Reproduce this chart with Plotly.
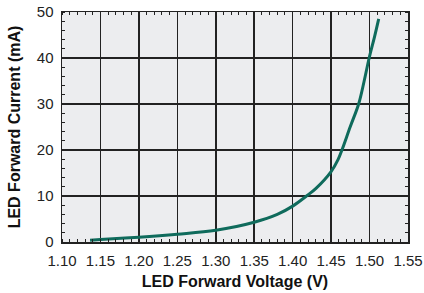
import plotly.graph_objects as go

voltage = [1.1365, 1.15, 1.20, 1.25, 1.30, 1.35, 1.38, 1.40, 1.418, 1.43, 1.45,
           1.459, 1.4641, 1.475, 1.4858, 1.4930, 1.4995, 1.5066, 1.5119]
current = [0.4, 0.55, 1.05, 1.7, 2.55, 4.3, 6.0, 7.8, 10, 11.6, 15.3,
           17.9, 20, 25.1, 30, 35, 40, 44.7, 48.5]
x_ticks = [1.10, 1.15, 1.20, 1.25, 1.30, 1.35, 1.40, 1.45, 1.50, 1.55]
y_ticks = [0, 10, 20, 30, 40, 50]

fig = go.Figure()
fig.add_trace(go.Scatter(x=voltage, y=current, mode="lines",
                         line=dict(color="#0f6b5c", width=3, shape="spline", smoothing=1.0),
                         hoverinfo="skip"))

font_family = "Liberation Sans, Arial, sans-serif"
axis_common = dict(
    showline=True, linecolor="#222", linewidth=1.5, mirror="allticks",
    showgrid=True, gridcolor="#222", gridwidth=1.5,
    ticks="", zeroline=False, automargin=False, ticklabeloverflow="allow",
    tickfont=dict(family=font_family, size=15, color="#222"),
)
fig.update_xaxes(range=[1.10, 1.55], tickvals=x_ticks, tickformat=".2f", ticklabelstandoff=4,
                 title=dict(text="<b>LED Forward Voltage (V)</b>", font=dict(family=font_family, size=16, color="#111"), standoff=8),
                 minor=dict(dtick=0.01, tick0=1.10, ticks="inside", ticklen=3, tickcolor="#222", showgrid=False),
                 **axis_common)
fig.update_yaxes(range=[0, 50], tickvals=y_ticks, ticklabelstandoff=4,
                 title=dict(text="<b>LED Forward Current (mA)</b>", font=dict(family=font_family, size=16, color="#111"), standoff=12),
                 minor=dict(dtick=2, tick0=0, ticks="inside", ticklen=3, tickcolor="#222", showgrid=False),
                 **axis_common)
fig.update_layout(width=424, height=293, margin=dict(l=62, r=16, t=12, b=51),
                  plot_bgcolor="#ecedef", paper_bgcolor="white", showlegend=False)
# remove the default 8px page margin so the figure fills the window exactly
fig.write_html("out.html",
               config={"displayModeBar": False, "staticPlot": True},
               post_script="document.body.style.margin='0';document.body.style.overflow='hidden';")
